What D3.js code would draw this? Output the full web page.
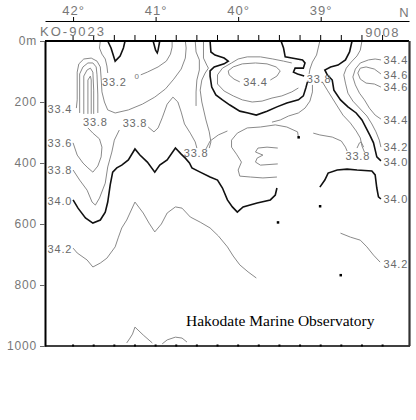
<!DOCTYPE html>
<html>
<head>
<meta charset="utf-8">
<script src="https://cdn.jsdelivr.net/npm/d3@7"></script>
<style>
  body { margin: 0; background: #fff; }
  svg { display: block; }
  .tick text { font-family: "Liberation Sans", Arial, sans-serif; fill: #777; }
</style>
</head>
<body>
<script>
// stations (latitude, deg N) along the section, KO-9023 ... 9008
var stationLat = [42.00, 41.75, 41.50, 41.25, 41.00, 40.75, 40.50, 40.25,
                  40.00, 39.75, 39.50, 39.25, 39.00, 38.75, 38.50, 38.25];
var latTicks = [42, 41, 40, 39];
var depthTicks = [0, 200, 400, 600, 800, 1000];

// salinity contours, [latitude, depth m]
// thick lines
var v330a = [[41.58,0],[41.54,23],[41.49,66],[41.43,49],[41.39,23],[41.37,0]];
var v330b = [[41.03,0],[41.00,30],[40.98,39],[40.97,30],[40.95,0]];
var c340West = [[42.00,521],[41.94,548],[41.85,580],[41.76,597],[41.67,587],[41.61,561],[41.58,528],
  [41.55,472],[41.52,430],[41.47,416],[41.41,407],[41.33,390],[41.25,354],[41.19,374],[41.10,397],
  [41.01,430],[40.95,407],[40.86,390],[40.76,351],[40.69,371],[40.64,384],[40.59,400],[40.56,416],
  [40.46,430],[40.34,446],[40.25,456],[40.19,482],[40.13,521],[40.07,544],[40.01,561],[39.94,544],
  [39.77,531],[39.61,521],[39.55,505],[39.53,482]];
var c340East = [[39.01,479],[38.95,456],[38.91,433],[38.80,423],[38.68,420],[38.56,423],[38.38,426],
  [38.34,439],[38.32,482],[38.30,511],[38.27,518]];
var c340Mid = [[40.34,0],[40.33,36],[40.28,46],[40.17,56],[40.12,66],[40.17,75],[40.29,85],[40.34,98],
  [40.34,115],[40.32,151],[40.27,177],[40.19,193],[40.10,210],[39.98,230],[39.88,236],[39.78,243],
  [39.65,230],[39.53,216],[39.41,203],[39.27,193],[39.21,180],[39.18,154],[39.16,134]];
var c340Top = [[39.48,0],[39.45,23],[39.43,52],[39.35,56],[39.22,62],[39.19,72],[39.21,89],[39.31,89],
  [39.33,102],[39.28,108],[39.20,115]];
var c340Right = [[38.62,0],[38.65,36],[38.70,62],[38.79,79],[38.88,85],[38.95,95],[38.92,111],[38.86,128],
  [38.84,161],[38.76,193],[38.67,216],[38.57,236],[38.50,259],[38.45,285],[38.40,311],[38.36,334],
  [38.34,357],[38.32,380],[38.27,393]];

// thin lines
var c334Hook = [[41.96,220],[41.95,193],[41.95,102],[41.93,75],[41.87,59],[41.78,56],[41.71,66],[41.67,85],
  [41.66,121],[41.65,167],[41.62,200],[41.58,226],[41.49,236],[41.33,226],[41.16,207],[41.01,184],
  [40.88,157],[40.78,125],[40.69,92],[40.64,56],[40.63,23],[40.64,0]];
var hook2 = [[41.92,236],[41.92,108],[41.88,85],[41.82,72],[41.76,72],[41.72,85],[41.71,111],[41.70,177],[41.70,236]];
var hook3 = [[41.87,239],[41.87,115],[41.83,95],[41.79,89],[41.76,102],[41.75,161],[41.75,239]];
var hook4 = [[41.82,239],[41.82,128],[41.79,115],[41.78,128],[41.78,239]];
var c332a = [[41.67,0],[41.68,23],[41.65,43],[41.61,59],[41.59,82],[41.58,105]];
var c332b = [[41.18,111],[41.10,102],[40.97,85],[40.87,66],[40.82,43],[40.80,20],[40.80,0]];
var c336 = [[42.00,334],[41.95,374],[41.88,400],[41.82,416],[41.76,430],[41.70,410],[41.66,380],[41.65,348],
  [41.68,321],[41.76,302],[41.82,285]];
var c338West = [[42.00,423],[41.92,456],[41.83,489],[41.77,528],[41.73,538],[41.68,515],[41.61,466],
  [41.58,413],[41.53,364],[41.50,325],[41.44,292]];
var c338Mid = [[41.09,282],[41.02,298],[40.97,285],[40.92,252],[40.86,207],[40.79,184],[40.73,200],
  [40.69,233],[40.65,272],[40.58,302],[40.52,331],[40.50,351]];
var lineVa = [[40.52,0],[40.51,36],[40.47,62],[40.47,95],[40.50,128],[40.51,167],[40.51,213]];
var lineVb = [[40.42,0],[40.42,56],[40.38,79],[40.36,89],[40.40,105],[40.44,128],[40.46,161],[40.44,200],
  [40.39,259],[40.35,298],[40.33,331],[40.35,351]];
var c344Core = [[39.98,134],[40.05,125],[40.11,111],[40.12,98],[40.06,85],[39.95,75],[39.79,72],[39.65,75],
  [39.54,85],[39.49,98],[39.53,115],[39.61,128]];
var c342Core = [[39.35,72],[39.45,66],[39.58,59],[39.73,52],[39.89,52],[40.00,59],[40.08,72],[40.19,89],
  [40.25,111],[40.25,141],[40.17,164],[40.06,180],[39.95,193],[39.83,200],[39.71,197],[39.59,187],
  [39.47,180],[39.35,167],[39.27,154]];
var loopW2 = [[39.27,315],[39.28,298],[39.41,282],[39.55,275],[39.73,282],[39.89,285],[40.01,302],[40.08,325],
  [40.08,348],[40.02,371],[39.96,397],[40.00,423],[39.98,443],[39.85,446],[39.70,449],[39.53,446]];
var lineW1 = [[40.39,354],[40.34,328],[40.24,308],[40.13,295]];
var tongue = [[39.52,351],[39.65,348],[39.76,351],[39.79,364],[39.70,374],[39.77,384],[39.79,397],[39.73,407],[39.52,403]];
var lineX1 = [[39.59,266],[39.49,259],[39.39,246],[39.27,236],[39.19,220],[39.13,197],[39.10,167],[39.10,144]];
var c338Top = [[39.01,0],[39.03,23],[39.05,46],[39.10,69],[39.13,92],[39.14,108]];
var c338East = [[38.98,134],[38.92,161],[38.86,187],[38.80,213],[38.73,243],[38.64,269],[38.57,295],
  [38.52,318],[38.50,344],[38.47,364]];
var lineZ2 = [[39.09,302],[39.01,308],[38.86,315],[38.75,328],[38.70,348],[38.68,361]];
var hat = [[38.56,351],[38.53,334],[38.51,331],[38.48,348]];
var c342East = [[38.27,348],[38.29,325],[38.33,298],[38.38,272],[38.44,246],[38.52,223],[38.61,197],
  [38.67,171],[38.70,138],[38.72,111],[38.69,89],[38.63,69],[38.56,49],[38.52,30],[38.50,0]];
var c344East = [[38.27,256],[38.34,243],[38.41,220],[38.47,193],[38.53,171],[38.58,144],[38.61,118],
  [38.58,92],[38.52,72],[38.42,62],[38.34,59],[38.27,62]];
var c346East = [[38.27,108],[38.35,92],[38.45,85],[38.52,89],[38.55,105],[38.52,125],[38.45,138],[38.35,141],[38.27,151]];
var c342West = [[42.00,679],[41.95,695],[41.83,718],[41.76,741],[41.67,728],[41.59,712],[41.49,675],
  [41.45,643],[41.41,613],[41.35,587],[41.25,528],[41.15,564],[41.08,597],[41.01,626],[40.93,600],
  [40.86,564],[40.76,544],[40.68,548],[40.58,577],[40.46,594],[40.34,613],[40.24,639],[40.13,675],
  [40.06,705],[39.98,734],[39.88,757],[39.78,777]];
var c342Deep = [[38.76,630],[38.64,643],[38.52,653],[38.44,675],[38.36,702],[38.28,725]];
var bottom1 = [[41.35,990],[41.31,974],[41.28,961],[41.25,938],[41.15,964],[41.04,990]];
var bottom2 = [[40.92,993],[40.86,980],[40.76,971],[40.68,974],[40.62,987]];

var thickLines = [v330a, v330b, c340West, c340East, c340Mid, c340Top, c340Right];
var thinLines = [c334Hook, hook2, hook3, hook4, c332a, c332b, c336, c338West, c338Mid, lineVa, lineVb,
  c344Core, c342Core, loopW2, lineW1, tongue, lineX1, c338Top, c338East, lineZ2, hat,
  c342East, c344East, c346East, c342West, c342Deep, bottom1, bottom2];

// contour labels
var labelText = ["33.2", "33.4", "33.8", "33.8", "33.6", "33.8", "34.0", "34.2", "33.8", "34.4",
  "33.8", "34.4", "34.6", "34.6", "34.4", "34.2", "33.8", "34.0", "34.0", "34.2"];
var labelLat = [41.50, 42.16, 41.73, 41.25, 42.16, 42.16, 42.16, 42.16, 40.51, 39.79,
  39.02, 38.09, 38.09, 38.09, 38.09, 38.09, 38.55, 38.09, 38.09, 38.09];
var labelDepth = [134, 223, 266, 269, 334, 423, 525, 682, 367, 134,
  125, 62, 111, 151, 259, 348, 377, 397, 518, 731];

// sample points
var dotLat = [39.27, 39.52, 39.01, 38.76];
var dotDepth = [315, 594, 541, 767];

var width = 416, height = 420;

var svg = d3.select("body").append("svg")
  .attr("width", width)
  .attr("height", height);

// latitude -> x, depth -> y
var x = d3.scaleLinear().domain([42.34, 37.93]).range([45, 409]);
var y = d3.scaleLinear().domain([0, 1000]).range([41, 346]);

var line = d3.line()
  .x(function(d) { return x(d[0]); })
  .y(function(d) { return y(d[1]); });

// contours
svg.append("g").selectAll("path")
  .data(thinLines)
  .enter().append("path")
    .attr("d", line)
    .attr("fill", "none")
    .attr("stroke", "#8a8a8a")
    .attr("stroke-width", 1);

svg.append("g").selectAll("path")
  .data(thickLines)
  .enter().append("path")
    .attr("d", line)
    .attr("fill", "none")
    .attr("stroke", "#111")
    .attr("stroke-width", 1.6);

// labels
svg.append("g").selectAll("text")
  .data(labelText)
  .enter().append("text")
    .attr("x", function(d, i) { return x(labelLat[i]); })
    .attr("y", function(d, i) { return y(labelDepth[i]); })
    .attr("dy", "0.36em")
    .attr("text-anchor", "middle")
    .style("font-family", "Liberation Sans, Arial, sans-serif")
    .style("font-size", "11px")
    .style("letter-spacing", "0.8px")
    .style("fill", "#6a6a6a")
    .text(function(d) { return d; });

// tiny closed contour
svg.append("text")
  .attr("x", x(41.23)).attr("y", y(125))
  .attr("text-anchor", "middle")
  .style("font-family", "Liberation Sans, Arial, sans-serif")
  .style("font-size", "8px")
  .style("fill", "#777")
  .text("0");

svg.append("g").selectAll("rect")
  .data(dotLat)
  .enter().append("rect")
    .attr("x", function(d) { return x(d) - 1; })
    .attr("y", function(d, i) { return y(dotDepth[i]) - 1; })
    .attr("width", 2.5).attr("height", 2.5)
    .attr("fill", "#000");

// frame
svg.append("path")
  .attr("d", "M" + x.range()[0] + "," + y.range()[0] + "H" + x.range()[1])
  .attr("stroke", "#000").attr("stroke-width", 1.8);
svg.append("path")
  .attr("d", "M" + x.range()[0] + "," + y.range()[1] + "H" + (x.range()[1] + 1))
  .attr("stroke", "#000").attr("stroke-width", 1.5);
svg.append("path")
  .attr("d", "M" + (x.range()[1] + 0.5) + "," + y.range()[0] + "V" + y.range()[1])
  .attr("stroke", "#333").attr("stroke-width", 2.2);

// depth axis
var depth_axis = d3.axisLeft(y)
  .tickValues(depthTicks)
  .tickSize(5)
  .tickSizeOuter(0)
  .tickPadding(3)
  .tickFormat(function(d) { return d === 0 ? "0m" : d; });

var gy = svg.append("g")
  .attr("transform", "translate(" + x.range()[0] + ",0)")
  .call(depth_axis);
gy.select(".domain").attr("stroke", "#000").attr("stroke-width", 2);
gy.selectAll(".tick line").attr("stroke", "#666");
gy.selectAll(".tick text")
  .style("font-size", "12px")
  .style("letter-spacing", "0.8px");

// latitude axis on top
var lat_axis = d3.axisTop(x)
  .tickValues(latTicks)
  .tickSize(4)
  .tickSizeOuter(0)
  .tickPadding(2)
  .tickFormat(function(d) { return d + "°"; });

var gx = svg.append("g")
  .attr("transform", "translate(0,21)")
  .call(lat_axis);
gx.select(".domain").attr("stroke", "#000").attr("stroke-width", 1.2);
gx.selectAll(".tick line").attr("stroke", "#000");
gx.selectAll(".tick text")
  .style("font-size", "13px")
  .style("letter-spacing", "1px");

svg.append("text")
  .attr("x", 404).attr("y", 17)
  .attr("text-anchor", "middle")
  .style("font-family", "Liberation Sans, Arial, sans-serif")
  .style("font-size", "13px")
  .style("fill", "#777")
  .text("N");

// station marks
svg.append("g").selectAll("line")
  .data(stationLat)
  .enter().append("line")
    .attr("x1", function(d) { return x(d); })
    .attr("x2", function(d) { return x(d); })
    .attr("y1", y(0) - 6)
    .attr("y2", y(0))
    .attr("stroke", "#000");

svg.append("g").selectAll("rect")
  .data(stationLat)
  .enter().append("rect")
    .attr("x", function(d) { return x(d) - 1; })
    .attr("y", y(1000) - 1.5)
    .attr("width", 2).attr("height", 2)
    .attr("fill", "#000");

svg.append("text")
  .attr("x", x(stationLat[0])).attr("y", 36)
  .attr("text-anchor", "middle")
  .style("font-family", "Liberation Sans, Arial, sans-serif")
  .style("font-size", "13px")
  .style("letter-spacing", "2px")
  .style("fill", "#777")
  .text("KO-9023");

svg.append("text")
  .attr("x", x(stationLat[stationLat.length - 1])).attr("y", 37)
  .attr("text-anchor", "middle")
  .style("font-family", "Liberation Sans, Arial, sans-serif")
  .style("font-size", "13px")
  .style("letter-spacing", "1.5px")
  .style("fill", "#777")
  .text("9008");

svg.append("text")
  .attr("x", 186).attr("y", 326)
  .style("font-family", "Liberation Serif, Times New Roman, serif")
  .style("font-size", "15.5px")
  .style("fill", "#000")
  .text("Hakodate Marine Observatory");
</script>
</body>
</html>
